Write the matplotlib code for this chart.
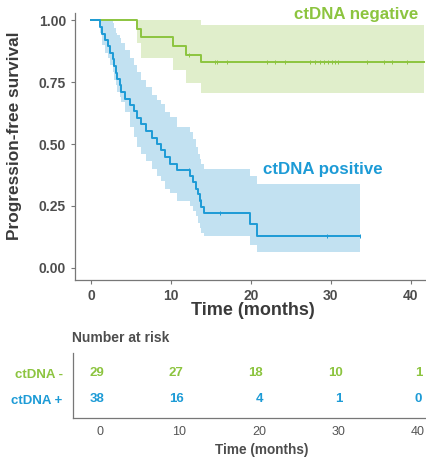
"""
Kaplan-Meier style progression-free survival chart with a number-at-risk table
"""
import numpy as np
import matplotlib
matplotlib.use("Agg")
import matplotlib.pyplot as plt
from matplotlib.transforms import ScaledTranslation

plt.rcParams['font.family'] = ['Liberation Sans', 'DejaVu Sans']

# ctDNA negative curve (step times in months, survival, CI bounds)
neg_t = [0, 5.7, 6.3, 10.3, 11.9, 13.8, 41.6]
neg_s = [1.0, 0.966, 0.931, 0.897, 0.862, 0.83, 0.83]
neg_lo = [1.0, 0.91, 0.85, 0.80, 0.745, 0.705, 0.705]
neg_hi = [1.0, 1.0, 1.0, 1.0, 1.0, 0.98, 0.98]
neg_cens = [12.3, 15.5, 15.7, 17.0, 22.0, 23.0, 24.3, 27.4, 28.0, 28.6, 29.2,
            29.6, 30.1, 30.5, 30.9, 34.5, 36.7, 37.6, 39.5]

# ctDNA positive curve
pos_t = [0, 1.1, 1.4, 1.8, 2.1, 2.4, 2.7, 2.9, 3.1, 3.3, 3.6, 3.8, 4.3, 4.9,
         5.4, 5.8, 6.3, 6.9, 7.6, 8.2, 8.8, 9.3, 9.9, 10.7, 12.4, 12.8, 13.1,
         13.4, 13.6, 13.8, 14.1, 19.9, 20.8, 33.6]
pos_s = [1.0, 0.974, 0.947, 0.921, 0.895, 0.868, 0.842, 0.816, 0.789, 0.763,
         0.737, 0.711, 0.684, 0.658, 0.632, 0.605, 0.579, 0.553, 0.526, 0.50,
         0.474, 0.447, 0.421, 0.395, 0.37, 0.345, 0.32, 0.296, 0.271, 0.247,
         0.222, 0.178, 0.13, 0.13]
pos_lo = [1.0, 0.95, 0.90, 0.87, 0.85, 0.82, 0.79, 0.76, 0.74, 0.71, 0.69,
          0.67, 0.63, 0.57, 0.53, 0.49, 0.46, 0.43, 0.40, 0.37, 0.35, 0.32,
          0.30, 0.27, 0.25, 0.23, 0.21, 0.18, 0.16, 0.14, 0.127, 0.09, 0.062,
          0.062]
pos_hi = [1.0, 1.0, 1.0, 1.0, 1.0, 1.0, 0.99, 0.97, 0.95, 0.94, 0.93, 0.91,
          0.88, 0.85, 0.82, 0.79, 0.76, 0.73, 0.70, 0.68, 0.66, 0.63, 0.61,
          0.57, 0.55, 0.52, 0.49, 0.46, 0.44, 0.42, 0.40, 0.37, 0.34, 0.34]
pos_cens = [12.3, 13.7, 16.1, 29.5, 33.6]

# number at risk table
risk_times = [0, 10, 20, 30, 40]
risk_neg = [29, 27, 18, 10, 1]
risk_pos = [38, 16, 4, 1, 0]
row_labels = ["ctDNA +", "ctDNA -"]

GREEN = "#8cc43f"
GREEN_FILL = "#e0eecb"
BLUE = "#1d9bd6"
BLUE_FILL = "#c2e1f1"
GREY = "#4d4d4d"
SPINE = "#777777"


def surv_at(times, surv, t):
    # step-function lookup for placing censor marks
    i = np.searchsorted(times, t, side="right") - 1
    return np.asarray(surv)[i]


fig = plt.figure(figsize=(4.26, 4.58), dpi=100)

# main survival plot
ax = fig.add_axes([75 / 426, 178 / 458, 351 / 426, 267 / 458])
ax.fill_between(neg_t, neg_lo, neg_hi, step="post", color=GREEN_FILL, lw=0)
ax.fill_between(pos_t, pos_lo, pos_hi, step="post", color=BLUE_FILL, lw=0)
ax.step(neg_t, neg_s, where="post", color=GREEN, lw=1.4)
ax.step(pos_t, pos_s, where="post", color=BLUE, lw=1.4)
ax.plot(neg_cens, surv_at(neg_t, neg_s, neg_cens), ls="none", marker="|",
        ms=3.5, mew=0.7, color=GREEN)
ax.plot(pos_cens, surv_at(pos_t, pos_s, pos_cens), ls="none", marker="|",
        ms=3.5, mew=0.7, color=BLUE)

ax.text(40.9, 1.022, "ctDNA negative", color=GREEN, fontsize=12.2,
        fontweight="bold", ha="right", va="center")
ax.text(21.5, 0.396, "ctDNA positive", color=BLUE, fontsize=12.2,
        fontweight="bold", ha="left", va="center")

ax.set_xlim(-2, 41.9)
ax.set_ylim(-0.05, 1.03)
ax.set_xticks([0, 10, 20, 30, 40])
ax.set_yticks([0, 0.25, 0.5, 0.75, 1.0])
ax.set_yticklabels(["0.00", "0.25", "0.50", "0.75", "1.00"])
for side in ["top", "right"]:
    ax.spines[side].set_visible(False)
for side in ["left", "bottom"]:
    ax.spines[side].set_color(SPINE)
    ax.spines[side].set_linewidth(0.9)
ax.tick_params(colors=SPINE, length=3, width=0.8, pad=3.5, labelsize=10,
               labelcolor=GREY)
for lab in ax.get_xticklabels() + ax.get_yticklabels():
    lab.set_fontweight("bold")
ax.set_xlabel("Time (months)", fontsize=13, fontweight="bold", color="#3a3a3a",
              va="top")
ax.xaxis.set_label_coords(0.507, -0.082)
ax.set_ylabel("Progression-free survival", fontsize=12.4, fontweight="bold",
              color="#3a3a3a")
ax.yaxis.set_label_coords(-0.15, 0.54)

# number at risk table
fig.text(72 / 426, 1 - 338 / 458, "Number at risk", fontsize=10,
         fontweight="bold", color=GREY, ha="left", va="center")

ax2 = fig.add_axes([73 / 426, 40 / 458, 353 / 426, 65 / 458])
shift = ScaledTranslation(4 / 100, 0, fig.dpi_scale_trans)
for t, n_neg, n_pos in zip(risk_times, risk_neg, risk_pos):
    ax2.text(t, 1, str(n_neg), color=GREEN, fontsize=9.5, fontweight="bold",
             ha="right", va="center", transform=ax2.transData + shift)
    ax2.text(t, 0, str(n_pos), color=BLUE, fontsize=9.5, fontweight="bold",
             ha="right", va="center", transform=ax2.transData + shift)

ax2.set_xlim(-3.4, 41.0)
ax2.set_ylim(-0.725, 1.775)
ax2.set_xticks(risk_times)
ax2.set_yticks([0, 1])
ax2.set_yticklabels(row_labels)
for lab, col in zip(ax2.get_yticklabels(), [BLUE, GREEN]):
    lab.set_color(col)
    lab.set_fontweight("bold")
for side in ["top", "right"]:
    ax2.spines[side].set_visible(False)
for side in ["left", "bottom"]:
    ax2.spines[side].set_color(SPINE)
    ax2.spines[side].set_linewidth(0.9)
ax2.tick_params(axis="y", length=0, pad=7.5, labelsize=9.5)
ax2.tick_params(axis="x", length=0, pad=6, labelsize=9, labelcolor="#555555")
ax2.set_xlabel("Time (months)", fontsize=9.8, fontweight="bold", color=GREY,
               va="center")
ax2.xaxis.set_label_coords((261.7 - 73) / 353, (418 - 450) / 65)

fig.savefig("out.png", dpi=100)
